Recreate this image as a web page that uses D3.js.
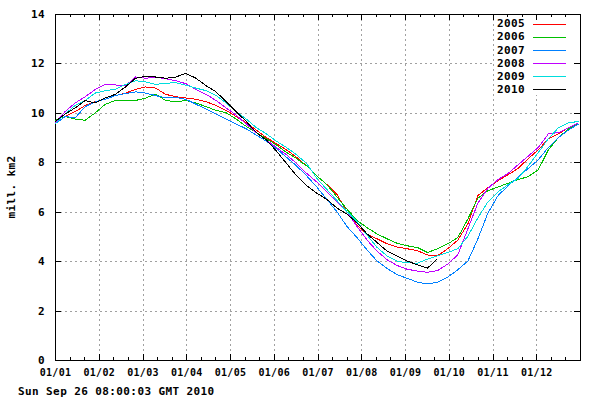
<!DOCTYPE html>
<html><head><meta charset="utf-8">
<script src="https://cdn.jsdelivr.net/npm/d3@7/dist/d3.min.js"></script>
<style>
body{margin:0;background:#fff}
text{font-family:"DejaVu Sans Mono","Liberation Mono",monospace;font-weight:bold;font-size:11px;letter-spacing:0.4px;fill:#000}
text.xt{font-size:10px;letter-spacing:0.3px}
</style>
</head><body>
<svg id="chart" width="600" height="400"></svg>
<script>
// ---- data ----
const days = [0,7,14,21,28,35,42,49,56,63,70,77,84,91,98,105,112,119,126,133,140,147,154,161,168,175,182,189,196,203,210,217,224,231,238,245,252,259,266,273,280,287,294,301,308,315,322,329,336,343,350,357,364];
const years = ["2005","2006","2007","2008","2009","2010"];
const seriesColors = ["#ff0000","#00c000","#0080ff","#c000ff","#00dddd","#000000"];
const xTickLabels = ["01/01","01/02","01/03","01/04","01/05","01/06","01/07","01/08","01/09","01/10","01/11","01/12"];
const yTickValues = [0,2,4,6,8,10,12,14];
const yAxisTitle = "mill. km2";
const timestamp = "Sun Sep 26 08:00:03 GMT 2010";

const v2005 = [9.7,9.85,10.05,10.3,10.45,10.55,10.7,10.8,10.95,11.05,11.0,10.75,10.65,10.6,10.55,10.45,10.3,10.1,9.85,9.6,9.3,9.0,8.75,8.5,8.2,7.85,7.45,7.1,6.7,6.0,5.45,5.1,4.9,4.7,4.57,4.5,4.42,4.25,4.22,4.5,4.85,5.5,6.65,6.98,7.25,7.5,7.75,8.15,8.5,8.95,9.15,9.4,9.6];
const v2006 = [9.7,9.85,9.75,9.7,10.0,10.35,10.5,10.5,10.5,10.6,10.75,10.5,10.45,10.5,10.4,10.25,10.1,10.0,9.75,9.45,9.2,8.95,8.7,8.4,8.15,7.85,7.45,7.1,6.6,6.1,5.65,5.35,5.1,4.9,4.72,4.62,4.55,4.35,4.5,4.7,4.95,5.7,6.55,6.85,7.0,7.15,7.3,7.42,7.7,8.5,9.0,9.35,9.6];
const v2007 = [9.55,9.85,9.8,10.25,10.45,10.55,10.7,10.78,10.85,10.8,10.7,10.6,10.62,10.55,10.35,10.15,9.95,9.75,9.55,9.35,9.1,8.85,8.55,8.2,7.85,7.45,7.0,6.5,6.0,5.4,4.95,4.45,4.0,3.7,3.45,3.3,3.15,3.08,3.15,3.35,3.65,4.0,4.9,5.95,6.65,7.05,7.4,7.75,8.1,8.6,9.0,9.3,9.55];
const v2008 = [9.6,10.05,10.4,10.65,10.95,11.15,11.13,11.1,11.45,11.4,11.45,11.38,11.3,11.18,10.95,10.75,10.5,10.2,9.9,9.55,9.2,8.9,8.6,8.3,7.95,7.55,7.2,6.8,6.4,6.0,5.4,4.85,4.4,4.05,3.82,3.67,3.6,3.55,3.62,3.88,4.25,5.3,6.35,6.95,7.3,7.55,7.9,8.25,8.6,9.15,9.2,9.4,9.6];
const v2009 = [9.55,9.95,10.3,10.5,10.8,10.9,10.95,11.15,11.3,11.25,11.15,11.2,11.22,11.12,11.0,10.9,10.7,10.4,10.05,9.75,9.4,9.15,8.85,8.6,8.3,7.95,7.35,6.9,6.45,6.0,5.6,5.05,4.55,4.2,4.0,3.93,3.92,4.08,4.22,4.35,4.5,5.0,5.75,6.4,6.8,7.1,7.35,7.85,8.4,8.95,9.4,9.6,9.65];
const v2010 = [9.64,9.95,10.2,10.5,10.4,10.6,10.75,11.05,11.4,11.48,11.45,11.4,11.45,11.6,11.4,11.1,10.85,10.45,10.05,9.65,9.2,8.9,8.45,7.95,7.45,7.05,6.75,6.5,6.15,5.9,5.55,5.1,4.75,4.4,4.2,4.0,3.85,3.72,4.1];
const seriesValues = [v2005,v2006,v2007,v2008,v2009,v2010];

// ---- layout ----
const svg = d3.select("#chart");
const L = 55, R = 580, T = 14, B = 360;
const x = d3.scaleLinear().domain([0,365]).range([L,R]);
const y = d3.scaleLinear().domain([0,14]).range([B,T]);
const monthTicks = xTickLabels.map((_,i)=> i*365/12);
const minorTicks = d3.range(0,36).map(i=>i*365/36).filter((_,i)=> i%3!==0);

svg.append("rect").attr("width",600).attr("height",400).attr("fill","#fff");

// grid
const grid = svg.append("g").attr("stroke","#a0a0a0").attr("stroke-width",1).attr("stroke-dasharray","2,3").attr("shape-rendering","crispEdges");
monthTicks.slice(1).forEach(d=>{
  const px = Math.round(x(d))+0.5;
  grid.append("line").attr("x1",px).attr("x2",px).attr("y1",T).attr("y2",B);
});
yTickValues.filter(v=>v>0 && v<14).forEach(v=>{
  const py = Math.round(y(v))+0.5;
  grid.append("line").attr("x1",L).attr("x2",R).attr("y1",py).attr("y2",py);
});

// legend background
svg.append("rect").attr("x",495).attr("y",T+1).attr("width",80).attr("height",80).attr("fill","#fff");

// axes
function styleAxis(g){ g.select(".domain").remove(); g.selectAll("line").attr("stroke","#000").attr("shape-rendering","crispEdges"); g.selectAll("text").attr("fill","#000").attr("font-family",null).attr("font-size",null); }
svg.append("g").attr("transform",`translate(0,${B})`)
  .call(d3.axisBottom(x).tickValues(monthTicks).tickSize(-6).tickPadding(9).tickFormat((d,i)=>xTickLabels[i]))
  .call(styleAxis)
  .selectAll("text").attr("class","xt");
svg.append("g").attr("transform",`translate(0,${B})`)
  .call(d3.axisBottom(x).tickValues(minorTicks).tickSize(-3).tickFormat(""))
  .call(styleAxis);
svg.append("g").attr("transform",`translate(0,${T})`)
  .call(d3.axisTop(x).tickValues(monthTicks).tickSize(-6).tickFormat(""))
  .call(styleAxis);
svg.append("g").attr("transform",`translate(0,${T})`)
  .call(d3.axisTop(x).tickValues(minorTicks).tickSize(-3).tickFormat(""))
  .call(styleAxis);
svg.append("g").attr("transform",`translate(${L},0)`)
  .call(d3.axisLeft(y).tickValues(yTickValues).tickSize(-6).tickPadding(10).tickFormat(d3.format("d")))
  .call(styleAxis);
svg.append("g").attr("transform",`translate(${R},0)`)
  .call(d3.axisRight(y).tickValues(yTickValues).tickSize(-6).tickFormat(""))
  .call(styleAxis);

// border
svg.append("rect").attr("x",L+0.5).attr("y",T+0.5).attr("width",R-L).attr("height",B-T)
  .attr("fill","none").attr("stroke","#000").attr("shape-rendering","crispEdges");

// series
const line = d3.line().x((d,i)=>x(days[i])).y(d=>y(d));
seriesValues.forEach((vals,k)=>{
  svg.append("path").datum(vals).attr("d",line).attr("fill","none")
    .attr("stroke",seriesColors[k]).attr("stroke-width",1).attr("shape-rendering","crispEdges");
});

// legend
years.forEach((yr,k)=>{
  const cy = 23.5 + k*13.1;
  svg.append("text").attr("x",525).attr("y",cy).attr("dy","0.35em").attr("text-anchor","end").text(yr);
  svg.append("line").attr("x1",533).attr("x2",566).attr("y1",Math.round(cy)+0.5).attr("y2",Math.round(cy)+0.5)
    .attr("stroke",seriesColors[k]).attr("stroke-width",1).attr("shape-rendering","crispEdges");
});

// titles
svg.append("text").attr("transform","translate(15,187) rotate(-90)").attr("text-anchor","middle").text(yAxisTitle);
svg.append("text").attr("x",18).attr("y",395).text(timestamp);
</script>
</body></html>
